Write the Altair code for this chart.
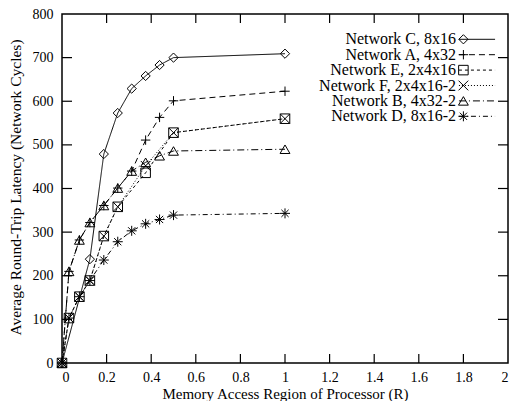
import altair as alt
import pandas as pd

# ---- data ----
x_vals = [0, 0.03125, 0.078, 0.125, 0.1875, 0.25, 0.3125, 0.375, 0.4375, 0.5, 1.0]
series_names = [
    "Network C, 8x16",
    "Network A, 4x32",
    "Network E, 2x4x16",
    "Network F, 2x4x16-2",
    "Network B, 4x32-2",
    "Network D, 8x16-2",
]
net_c = [0, None, None, 238, 479, 573, 629, 658, 683, 700, 709]
net_a = [0, 210, 282, 322, 361, 401, 440, 511, 563, 601, 623]
net_e = [0, 103, 152, 189, 291, 358, None, 436, None, 528, 560]
net_f = [0, 103, 152, 189, 291, 358, None, 452, None, 528, 560]
net_b = [0, 210, 282, 322, 361, 401, 440, 460, 475, 486, 490]
net_d = [0, 103, 152, 189, 236, 278, 303, 319, 329, 339, 343]
all_series = [net_c, net_a, net_e, net_f, net_b, net_d]

x_ticks = [0, 0.2, 0.4, 0.6, 0.8, 1.0, 1.2, 1.4, 1.6, 1.8, 2.0]
y_ticks = [0, 100, 200, 300, 400, 500, 600, 700, 800]
inner_x_ticks = x_ticks[1:-1]
inner_y_ticks = y_ticks[1:-1]

FONT = "'Liberation Serif', 'Times New Roman', Times, 'DejaVu Serif', serif"

# ---- styles ----
shapes = [
    "diamond",
    "M-1,0L1,0M0,-1L0,1",
    "square",
    "M-1,-1L1,1M-1,1L1,-1",
    "triangle-up",
    "M-1,0L1,0M0,-1L0,1M-0.72,-0.72L0.72,0.72M-0.72,0.72L0.72,-0.72",
]
dashes = [[1, 0], [6, 4], [3, 3], [1, 2], [7, 3, 1, 3], [5, 3, 1, 3]]
sizes = [85, 100, 90, 75, 110, 100]

rows = []
for name, vals in zip(series_names, all_series):
    for xv, yv in zip(x_vals, vals):
        if yv is not None:
            rows.append({"series": name, "x": xv, "y": yv})
df = pd.DataFrame(rows)

# legend (gnuplot-style key inside the plot, top right)
key_top = 742
key_step = 35.3
n = len(series_names)
leg = pd.DataFrame({
    "series": series_names,
    "ty": [key_top - i * key_step for i in range(n)],
    "tx": [1.767] * n,
    "lx0": [1.780] * n,
    "lx1": [1.942] * n,
    "mx": [1.800] * n,
})

W, H = 446, 349

xs = alt.Scale(domain=[0, 2], nice=False, zero=False)
ys = alt.Scale(domain=[0, 800], nice=False, zero=False)
dash_scale = alt.Scale(domain=series_names, range=dashes)
shape_scale = alt.Scale(domain=series_names, range=shapes)
size_scale = alt.Scale(domain=series_names, range=sizes)

x_axis = alt.Axis(values=x_ticks, format="~g", labelPadding=7.5,
                  title="Memory Access Region of Processor (R)",
                  titleY=35, titleBaseline="alphabetic", titleFontSize=15)
y_axis = alt.Axis(values=y_ticks, format="d", labelPadding=9,
                  title="Average Round-Trip Latency (Network Cycles)",
                  titleX=-42, titleY=173, titleBaseline="alphabetic", titleFontSize=15.5)

lines = alt.Chart(df).mark_line(color="black", strokeWidth=1).encode(
    x=alt.X("x:Q", scale=xs, axis=x_axis),
    y=alt.Y("y:Q", scale=ys, axis=y_axis),
    strokeDash=alt.StrokeDash("series:N", scale=dash_scale, legend=None),
    detail="series:N",
    order="x:Q",
)

points = alt.Chart(df).mark_point(filled=False, color="black", strokeWidth=1, opacity=1).encode(
    x=alt.X("x:Q", scale=xs),
    y=alt.Y("y:Q", scale=ys),
    shape=alt.Shape("series:N", scale=shape_scale, legend=None),
    size=alt.Size("series:N", scale=size_scale, legend=None),
)

leg_lines = alt.Chart(leg).mark_rule(color="black", strokeWidth=1).encode(
    x=alt.X("lx0:Q", scale=xs),
    x2="lx1:Q",
    y=alt.Y("ty:Q", scale=ys),
    strokeDash=alt.StrokeDash("series:N", scale=dash_scale, legend=None),
)
leg_points = alt.Chart(leg).mark_point(filled=False, color="black", strokeWidth=1, opacity=1).encode(
    x=alt.X("mx:Q", scale=xs),
    y=alt.Y("ty:Q", scale=ys),
    shape=alt.Shape("series:N", scale=shape_scale, legend=None),
    size=alt.Size("series:N", scale=size_scale, legend=None),
)
leg_text = alt.Chart(leg).mark_text(align="right", baseline="middle", fontSize=16,
                                    font=FONT, color="black").encode(
    x=alt.X("tx:Q", scale=xs),
    y=alt.Y("ty:Q", scale=ys),
    text="series:N",
)

# inward tick marks on all four sides (gnuplot style)
xt = pd.DataFrame({"t": inner_x_ticks})
yt = pd.DataFrame({"t": inner_y_ticks})
tick_style = dict(color="black", strokeWidth=1.2)
xt_bottom = alt.Chart(xt).mark_rule(**tick_style).encode(
    x=alt.X("t:Q", scale=xs), y=alt.value(H), y2=alt.value(H - 9))
xt_top = alt.Chart(xt).mark_rule(**tick_style).encode(
    x=alt.X("t:Q", scale=xs), y=alt.value(0), y2=alt.value(9))
yt_left = alt.Chart(yt).mark_rule(**tick_style).encode(
    y=alt.Y("t:Q", scale=ys), x=alt.value(0), x2=alt.value(10))
yt_right = alt.Chart(yt).mark_rule(**tick_style).encode(
    y=alt.Y("t:Q", scale=ys), x=alt.value(W), x2=alt.value(W - 10))

chart = alt.layer(
    xt_bottom, xt_top, yt_left, yt_right,
    lines, points, leg_lines, leg_points, leg_text,
).properties(
    width=W,
    height=H,
    autosize=alt.AutoSizeParams(type="none"),
    padding={"left": 54, "top": 6, "right": 2, "bottom": 38},
).configure(
    font=FONT,
    background="white",
).configure_view(
    stroke="black",
    strokeWidth=1.5,
).configure_axis(
    ticks=False,
    domain=False,
    grid=False,
    tickSize=0,
    labelFontSize=14,
    labelColor="black",
    labelFont=FONT,
    titleFontSize=15,
    titleFontWeight="normal",
    titleColor="black",
    titleFont=FONT,
)

chart.save("out.html", embed_options={"renderer": "svg", "actions": False})
